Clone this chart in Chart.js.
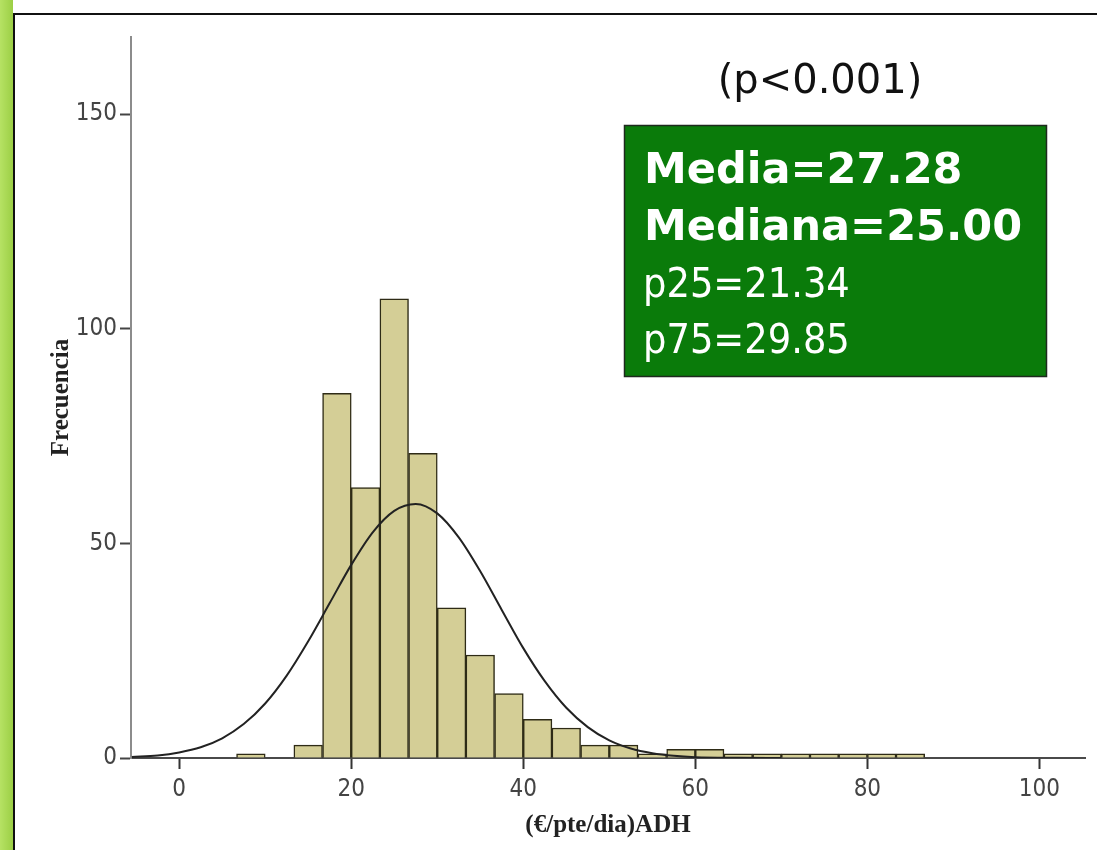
<!DOCTYPE html>
<html>
<head>
<meta charset="utf-8">
<script src="https://cdn.jsdelivr.net/npm/chart.js@4.4.1/dist/chart.umd.min.js"></script>
<style>
	html, body { margin: 0; padding: 0; background: #fff; }
	#wrap { position: relative; width: 1097px; height: 850px; overflow: hidden; }
	#strip { position: absolute; left: 0; top: 0; width: 13px; height: 850px; background: linear-gradient(to right, #b6e264, #9ccf45); }
	#vline { position: absolute; left: 13px; top: 13px; width: 2px; height: 837px; background: #111; }
	#hline { position: absolute; left: 13px; top: 13px; width: 1084px; height: 2px; background: #111; }
	#chart-histogram { position: absolute; left: 0; top: 0; }
</style>
</head>
<body>
<div id="wrap">
	<div id="strip"></div>
	<div id="vline"></div>
	<div id="hline"></div>
	<canvas id="chart-histogram" width="1097" height="850"></canvas>
</div>
<script>
// Histogram bins (lower edge) and frequencies
const BIN_WIDTH = 10 / 3;
const binLower = [6.67, 10, 13.33, 16.67, 20, 23.33, 26.67, 30, 33.33, 36.67, 40, 43.33,
	46.67, 50, 53.33, 56.67, 60, 63.33, 66.67, 70, 73.33, 76.67, 80, 83.33];
const counts = [1, 0, 3, 85, 63, 107, 71, 35, 24, 15, 9, 7,
	3, 3, 1, 2, 2, 1, 1, 1, 1, 1, 1, 1];

// Normal curve
const curveX = [-5.5, -2.5, 0, 2.5, 5, 7.5, 10, 12.5, 15, 17.5, 20, 22.5, 25, 27.5, 30,
	32.5, 35, 37.5, 40, 42.5, 45, 47.5, 50, 52.5, 55, 57.5, 60, 65, 70];
const curveY = [0.25, 0.6, 1.3, 2.5, 4.6, 7.9, 12.7, 19.2, 27.2, 36.1, 45.0, 52.6, 57.6, 59.2, 57.0,
	51.4, 43.5, 34.5, 25.6, 17.9, 11.7, 7.2, 4.1, 2.2, 1.1, 0.5, 0.2, 0.05, 0];

// Axis ticks
const xTicks = [0, 20, 40, 60, 80, 100];
const yTicks = [0, 50, 100, 150];

// Annotation texts
const pText = "(p<0.001)";
const statsBold = ["Media=27.28", "Mediana=25.00"];
const statsPlain = ["p25=21.34", "p75=29.85"];

const TICK_FONT = { family: "'Liberation Sans Narrow', 'DejaVu Sans Condensed', 'Arial Narrow', sans-serif", size: 24 };
const TITLE_FONT = { family: "'Liberation Serif', 'DejaVu Serif', serif", size: 25, weight: "bold" };

// Stats box + p-value, drawn after the chart
const statsBox = {
	id: "statsBox",
	afterDraw(chart) {
		const ctx = chart.ctx;
		ctx.save();
		ctx.fillStyle = "#111";
		ctx.font = "40px 'DejaVu Sans', sans-serif";
		ctx.textAlign = "center";
		ctx.textBaseline = "alphabetic";
		ctx.fillText(pText, 820, 93);

		ctx.fillStyle = "#0a7b0a";
		ctx.fillRect(624, 125, 423, 252);
		ctx.strokeStyle = "#1e2a1e";
		ctx.lineWidth = 1.5;
		ctx.strokeRect(624.5, 125.5, 422, 251);

		ctx.fillStyle = "#fff";
		ctx.textAlign = "left";
		ctx.font = "bold 43px 'DejaVu Sans', sans-serif";
		ctx.fillText(statsBold[0], 644, 183);
		ctx.fillText(statsBold[1], 644, 240);
		ctx.font = "41px 'DejaVu Sans Condensed', 'DejaVu Sans', sans-serif";
		ctx.fillText(statsPlain[0], 643, 297);
		ctx.fillText(statsPlain[1], 643, 353);
		ctx.restore();
	},
};

const DATA = {
	datasets: [
		{
			type: "line",
			label: "Normal",
			data: curveX.map((x, i) => ({ x: x, y: curveY[i] })),
			borderColor: "#222",
			borderWidth: 2,
			pointRadius: 0,
			cubicInterpolationMode: "monotone",
			fill: false,
			order: 0,
		},
		{
			type: "bar",
			label: "Frecuencia",
			data: binLower.map((b, i) => ({ x: b + BIN_WIDTH / 2, y: counts[i] })),
			backgroundColor: "#d4ce96",
			borderColor: "#2e2b16",
			borderWidth: 1.5,
			barPercentage: 1,
			categoryPercentage: 1,
			order: 1,
		},
	],
};

const CONFIG = {
	type: "bar",
	data: DATA,
	options: {
		responsive: false,
		animation: false,
		devicePixelRatio: 1,
		layout: {
			padding: { left: 0, right: 12, top: 37, bottom: 0 },
		},
		plugins: {
			legend: { display: false },
			tooltip: { enabled: false },
			title: { display: false },
		},
		scales: {
			x: {
				type: "linear",
				min: -5.6,
				max: 105.3,
				offset: false,
				afterFit: (scale) => { scale.height = 92; },
				afterBuildTicks: (scale) => { scale.ticks = xTicks.map((v) => ({ value: v })); },
				border: { display: true, color: "#4a4a4a", width: 2 },
				grid: { offset: false, drawOnChartArea: false, drawTicks: true, tickLength: 11, tickWidth: 2, tickColor: "#333" },
				ticks: { color: "#444", font: TICK_FONT, padding: 6, maxRotation: 0, includeBounds: false },
				title: { display: true, text: "(€/pte/dia)ADH", color: "#222", font: TITLE_FONT, padding: { top: 0, bottom: 9 } },
			},
			y: {
				type: "linear",
				min: 0,
				max: 168,
				afterFit: (scale) => { scale.width = 131; },
				afterBuildTicks: (scale) => { scale.ticks = yTicks.map((v) => ({ value: v })); },
				border: { display: true, color: "#8c8c8c", width: 2 },
				grid: { offset: false, drawOnChartArea: false, drawTicks: true, tickLength: 11, tickWidth: 2, tickColor: "#444" },
				ticks: { color: "#444", font: TICK_FONT, padding: 3, includeBounds: false },
				title: { display: true, text: "Frecuencia", color: "#222", font: TITLE_FONT, padding: { top: 47, bottom: 0 } },
			},
		},
	},
	plugins: [statsBox],
};

const CHART_WRAPPER = document.getElementById("chart-histogram");
if (CHART_WRAPPER) {
	new Chart(CHART_WRAPPER, CONFIG);
}
</script>
</body>
</html>
